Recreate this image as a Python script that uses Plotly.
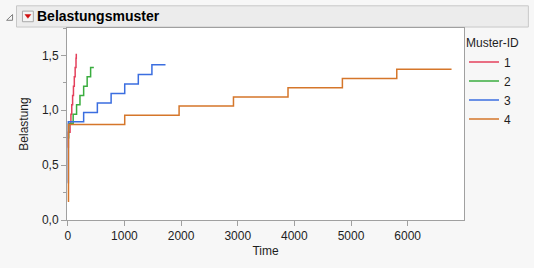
import plotly.graph_objects as go

# ---- data ----
muster_ids = ["1", "2", "3", "4"]

time_1 = [0, 10, 40, 55, 70, 85, 100, 115, 130, 145, 150]
load_1 = [0.66, 0.80, 0.88, 0.965, 1.05, 1.135, 1.22, 1.305, 1.39, 1.475, 1.515]

time_2 = [0, 15, 95, 155, 215, 280, 342, 403, 460]
load_2 = [0.75, 0.88, 0.965, 1.05, 1.135, 1.22, 1.305, 1.39, 1.39]

time_3 = [0, 10, 280, 522, 765, 1005, 1245, 1485, 1725]
load_3 = [0.34, 0.895, 0.98, 1.067, 1.152, 1.24, 1.327, 1.415, 1.415]

time_4 = [0, 12, 1005, 1965, 2925, 3888, 4848, 5808, 6775]
load_4 = [0.17, 0.87, 0.955, 1.04, 1.12, 1.205, 1.29, 1.375, 1.375]

x_ticks = [0, 1000, 2000, 3000, 4000, 5000, 6000]
y_ticks = [0.0, 0.5, 1.0, 1.5]

colors = ["#e4405c", "#3aad3f", "#3b6ee0", "#d5762a"]

series = [(time_1, load_1), (time_2, load_2), (time_3, load_3), (time_4, load_4)]

fig = go.Figure()
for name, (tx, ly), c in zip(muster_ids, series, colors):
    fig.add_trace(go.Scatter(
        x=tx, y=ly, name=name, mode="lines",
        line=dict(color=c, width=1.5, shape="hv"),
    ))

font_main = "Liberation Sans, Arial, sans-serif"

fig.update_layout(
    width=534, height=268,
    margin=dict(l=67, r=66, t=28, b=41),
    paper_bgcolor="#f7f7f7",
    plot_bgcolor="#ffffff",
    separators=",.",
    font=dict(family=font_main, size=12, color="#1e1e1e"),
    showlegend=True,
    legend=dict(
        x=1.0, xanchor="left", y=0.98, yanchor="top",
        bgcolor="rgba(0,0,0,0)",
        title=dict(text="Muster-ID", font=dict(size=12)),
        font=dict(size=12),
        itemwidth=30,
        tracegroupgap=0,
    ),
    title=dict(
        text="<b>Belastungsmuster</b>",
        font=dict(family=font_main, size=14, color="#000000"),
        x=37 / 534, xanchor="left", xref="container",
        y=1 - 16 / 268, yanchor="middle", yref="container",
    ),
    xaxis=dict(
        range=[-14, 6995],
        tickvals=x_ticks,
        ticks="outside", ticklen=5, tickcolor="#a0a0a0",
        showgrid=False, zeroline=False,
        showline=True, linecolor="#a0a0a0", linewidth=1, mirror=True,
        title=dict(text="Time", standoff=4, font=dict(size=12)),
        tickfont=dict(size=12),
    ),
    yaxis=dict(
        range=[0, 1.75],
        tickvals=y_ticks,
        tickformat=".1f",
        ticks="outside", ticklen=5, tickcolor="#a0a0a0",
        minor=dict(dtick=0.25, tick0=0, ticks="outside", ticklen=3, tickcolor="#a0a0a0"),
        showgrid=False, zeroline=False,
        showline=True, linecolor="#a0a0a0", linewidth=1, mirror=True,
        title=dict(text="Belastung", standoff=10, font=dict(size=12)),
        tickfont=dict(size=12),
    ),
)

# header bar (outline frame like the reference report header)
fig.add_shape(type="rect", xref="paper", yref="paper",
              x0=(16 - 67) / 401, x1=(533 - 67) / 401,
              y0=1 + (27 - 26) / 199, y1=1 + (28 - 5) / 199,
              line=dict(color="#c8c8c8", width=1), fillcolor="#ececec", layer="below")
# red-triangle menu button
fig.add_shape(type="rect", xref="paper", yref="paper",
              x0=(22 - 67) / 401, x1=(33 - 67) / 401,
              y0=1 + (28 - 21.5) / 199, y1=1 + (28 - 10.5) / 199,
              line=dict(color="#a8a8a8", width=1), fillcolor="#f4f4f4")
fig.add_shape(type="path", xref="paper", yref="paper",
              path="M {a},{b} L {c},{b} L {d},{e} Z".format(
                  a=(24.5 - 67) / 401, c=(30.5 - 67) / 401, d=(27.5 - 67) / 401,
                  b=1 + (28 - 14) / 199, e=1 + (28 - 18) / 199),
              line=dict(color="#d01010", width=0.5), fillcolor="#d01010")
# disclosure triangle
fig.add_shape(type="path", xref="paper", yref="paper",
              path="M {a},{b} L {c},{b} L {c},{e} Z".format(
                  a=(6 - 67) / 401, c=(12 - 67) / 401,
                  b=1 + (28 - 20) / 199, e=1 + (28 - 14) / 199),
              line=dict(color="#808080", width=1), fillcolor="rgba(0,0,0,0)")

fig.write_html("out.html")
